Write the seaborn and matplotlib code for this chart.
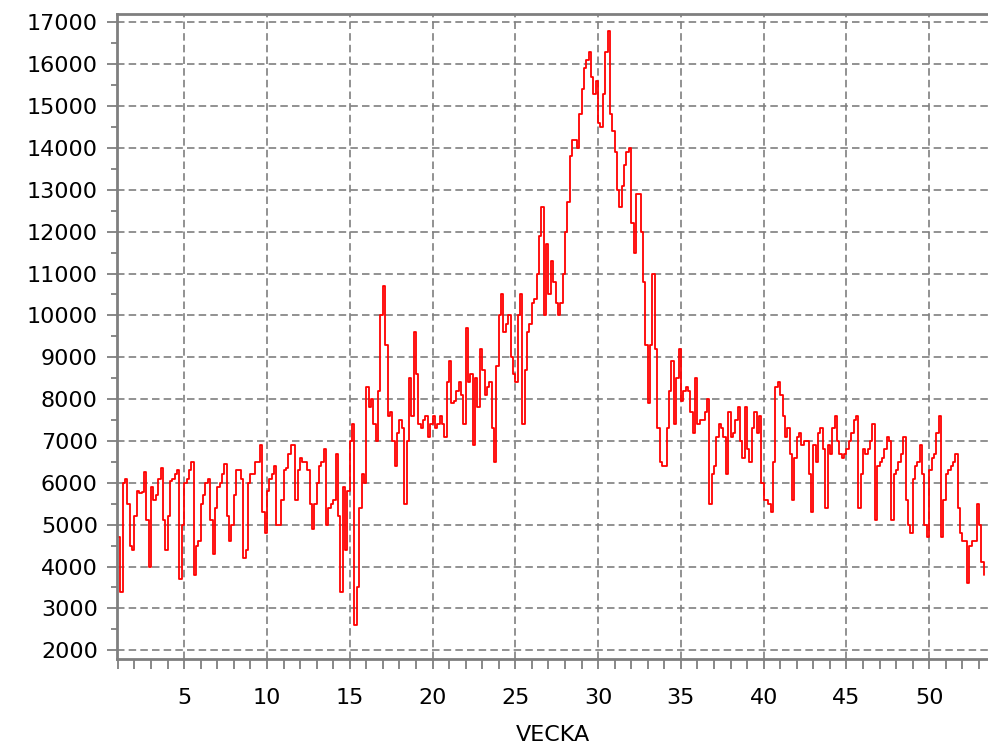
import numpy as np
import pandas as pd
import matplotlib
matplotlib.use("Agg")
import matplotlib.pyplot as plt
import seaborn as sns
from matplotlib.ticker import MultipleLocator

# daily values
days_w01_09 = [4700, 3400, 6000, 6100, 5500, 4500, 4400, 5200, 5800, 5750,
               5780, 6250, 5100, 4000, 5900, 5600, 5700, 6100, 6350, 5100,
               4400, 5200, 6050, 6100, 6200, 6300, 3700, 5000, 6000, 6100,
               6300, 6500, 3800, 4500, 4600, 5500, 5700, 6000, 6100, 5100,
               4300, 5400, 5900, 6000, 6200, 6450, 5200, 4600, 5000, 5700,
               6300, 6300, 6100, 4200, 4400, 6000, 6200, 6200, 6500, 6500,
               6900]
days_w10_18 = [5300, 4800, 5800, 6100, 6200, 6400, 5000, 5000, 5600, 6300,
               6350, 6700, 6900, 6900, 5600, 6300, 6600, 6500, 6500, 6300,
               5500, 4900, 5500, 6000, 6400, 6500, 6800, 5000, 5400, 5500,
               5600, 6700, 5200, 3400, 5900, 4400, 5800, 7000, 7400, 2600,
               3500, 5400, 6200, 6000, 8300, 7800, 8000, 7400, 7000, 8200,
               10000, 10700, 9300, 7600, 7700, 7000, 6400, 7200, 7500, 7300]
days_w18_27 = [5500, 7000, 8500, 7600, 9600, 8600, 7400, 7300, 7500, 7600,
               7100, 7400, 7600, 7300, 7400, 7600, 7400, 7100, 8400, 8900,
               7900, 7950, 8200, 8400, 8100, 7400, 9700, 8400, 8600, 6900,
               8500, 7800, 9200, 8700, 8100, 8300, 8400, 7300, 6500, 8800,
               10000, 10500, 9600, 9800, 10000, 9000, 8600, 8400, 10000, 10500,
               7400, 8700, 9600, 9800, 10300, 10400, 11000, 11900, 12600, 10000,
               11700]
days_w27_36 = [10500, 11300, 10800, 10300, 10000, 10300, 11000, 12000, 12700, 13800,
               14200, 14200, 14000, 14800, 15400, 15900, 16100, 16300, 15700, 15300,
               15600, 14600, 14500, 15300, 16300, 16800, 14800, 14400, 13900, 13000,
               12600, 13100, 13600, 13900, 14000, 12200, 11500, 12900, 12900, 12000,
               10800, 9300, 7900, 9300, 11000, 9200, 7300, 6500, 6400, 6400,
               7300, 8200, 8900, 7400, 8500, 9200, 7950, 8200, 8300, 8200,
               7700, 7200]
days_w36_44 = [8500, 7400, 7500, 7500, 7700, 8000, 5500, 6200, 6400, 7100,
               7400, 7300, 7100, 6200, 7700, 7100, 7200, 7500, 7800, 7000,
               6600, 7800, 6800, 6500, 7300, 7700, 7200, 7600, 6000, 5600,
               5600, 5500, 5300, 6500, 8300, 8400, 8100, 7600, 7100, 7300,
               6700, 5600, 6600, 7100, 7200, 6900, 7000, 7000, 6200, 5300,
               6900, 6500, 7200, 7300, 6800, 5400, 6900, 6700, 7300, 7600,
               7000]
days_w44_53 = [6700, 6600, 6700, 6800, 7000, 7200, 7500, 7600, 5400, 6200,
               6800, 6700, 6800, 7000, 7400, 5100, 6400, 6500, 6600, 6800,
               7100, 7000, 5100, 6200, 6300, 6500, 6700, 7100, 5600, 5000,
               4800, 6100, 6400, 6500, 6900, 6200, 5000, 4700, 6300, 6600,
               6700, 7200, 7600, 4700, 5600, 6200, 6300, 6400, 6500, 6700,
               5400, 4800, 4600, 4600, 3600, 4500, 4600, 4600, 5500, 5000,
               4100, 3800]

values = (days_w01_09 + days_w10_18 + days_w18_27 + days_w27_36
          + days_w36_44 + days_w44_53)
df = pd.DataFrame({"vecka": 1 + np.arange(len(values)) / 7, "antal": values})

sns.set_style("white")
plt.rcParams["font.family"] = ["DejaVu Sans"]

fig = plt.figure(figsize=(9.88, 7.46), dpi=100)
ax = fig.add_axes([0.1187, 0.1166, 0.8813, 0.8646])

sns.lineplot(data=df, x="vecka", y="antal", color="red", linewidth=1.3,
             drawstyle="steps-post", ax=ax)

ax.set_xlim(0.96, 53.55)
ax.set_ylim(1790, 17200)

ax.xaxis.set_major_locator(MultipleLocator(5))
ax.xaxis.set_minor_locator(MultipleLocator(1))
ax.yaxis.set_major_locator(MultipleLocator(1000))
ax.yaxis.set_minor_locator(MultipleLocator(500))

grey = "#7f7f7f"
ax.grid(True, which="major", color=grey, linestyle=(0, (4.5, 2.5)), linewidth=1.2)
for side in ["left", "bottom", "top"]:
    ax.spines[side].set_color(grey)
    ax.spines[side].set_linewidth(2)
ax.spines["right"].set_visible(False)

ax.tick_params(which="major", direction="out", length=7, width=1.3, color=grey,
               labelsize=16, labelcolor="black")
ax.tick_params(which="minor", direction="out", length=4, width=1.3, color=grey)
ax.tick_params(axis="x", which="both", bottom=True)
ax.tick_params(axis="y", which="both", left=True)
ax.tick_params(axis="x", which="minor", length=7)
ax.tick_params(axis="x", which="major", pad=14)
ax.tick_params(axis="y", which="major", pad=7)

ax.set_xlabel("VECKA", fontsize=16, labelpad=12, color="black")
ax.set_ylabel("")

fig.savefig("out.png", dpi=100)
